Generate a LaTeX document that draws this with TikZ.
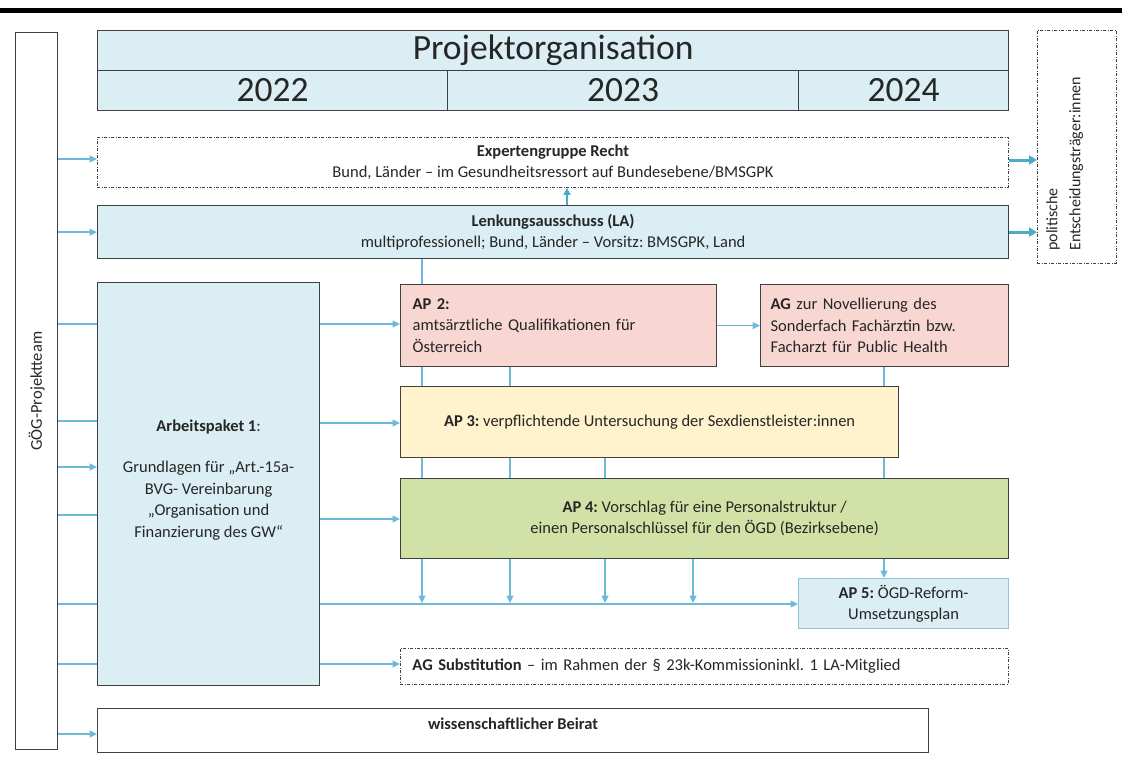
\documentclass[tikz,border=0pt]{standalone}
\usepackage{fontspec}
\setmainfont{Carlito}
\usetikzlibrary{arrows.meta,calc}
\frenchspacing
\definecolor{lblue}{HTML}{DAEEF3}
\definecolor{pinkf}{HTML}{F8D6D1}
\definecolor{yellowf}{HTML}{FFF2CC}
\definecolor{greenf}{HTML}{D2E2A6}
\definecolor{bgray}{HTML}{404040}
\definecolor{ablue}{HTML}{4BACC6}
\definecolor{lline}{HTML}{6EBAD6}
\definecolor{ap5border}{HTML}{8CC6DC}
\tikzset{
  box/.style={draw=bgray, line width=1.2pt, inner sep=0pt, anchor=north west,
    font=\fontsize{16.5}{21.5}\selectfont, text=black!85},
  dashbox/.style={box, dash pattern=on 3pt off 1.5pt on 1pt off 1.5pt, line width=0.9pt},
  hdrbox/.style={box, fill=lblue, font=\fontsize{35.5}{40}\selectfont},
  ln/.style={draw=lline, line width=1.3pt},
  arr/.style={ln, -{Triangle[length=7.5pt,width=7pt]}},
  thickarr/.style={draw=ablue, line width=3pt, -{Triangle[length=8pt,width=9pt]}},
}
\begin{document}
\begin{tikzpicture}[x=1pt,y=-1pt]
\useasboundingbox (0,0) rectangle (1122,758);
% top rule
\fill[black] (0,7.5) rectangle (1122,12.5);

% column coordinates
\coordinate (c1) at (422,0);
\coordinate (c2) at (510,0);
\coordinate (c3) at (605,0);
\coordinate (c4) at (693,0);
\coordinate (c5) at (884,0);
\coordinate (cup) at (567,0);

% left box
\node[box, minimum width=42, minimum height=717] (gog) at (15,32) {};
\node[rotate=90, font=\fontsize{16.5}{20}\selectfont, text=black!85] (gogtxt) at (gog.center) {GÖG-Projektteam};

% header
\node[hdrbox, minimum width=911, minimum height=40] (hdr) at (97,30) {Projektorganisation};
\node[hdrbox, minimum width=350, minimum height=40] (y22) at (97,70) {2022};
\node[hdrbox, minimum width=351, minimum height=40] (y23) at (447,70) {2023};
\node[hdrbox, minimum width=210, minimum height=40] (y24) at (798,70) {2024};

% politische
\node[dashbox, minimum width=79, minimum height=233] (pol) at (1037,30) {};
\node[rotate=90, anchor=north west, align=left, inner sep=0pt,
  font=\fontsize{16}{23}\selectfont, text=black!85] (poltxt) at (1046,251)
  {politische\\Entscheidungsträger:innen};

% Expertengruppe
\node[dashbox, fill=white, minimum width=911, minimum height=50, align=center] (exp) at (97,137)
  {\textbf{Expertengruppe Recht}\\Bund, Länder – im Gesundheitsressort auf Bundesebene/BMSGPK};
% LA
\node[box, fill=lblue, minimum width=911, minimum height=53, align=center] (la) at (97,205)
  {\textbf{Lenkungsausschuss (LA)}\\multiprofessionell; Bund, Länder – Vorsitz: BMSGPK, Land};

% AP1
\node[box, fill=lblue, minimum width=222, minimum height=403,
  label={[align=center, yshift=4pt, font=\fontsize{16.5}{21.5}\selectfont, text=black!85]center:%
  \textbf{Arbeitspaket 1}:\\[20pt]Grundlagen für „Art.-15a-\\BVG- Vereinbarung\\„Organisation und\\Finanzierung des GW“}] (ap1) at (97,282) {};

% AP2
\node[box, fill=pinkf, minimum width=316, minimum height=82, align=left,
  text width=292, inner xsep=12pt] (ap2) at (400,284)
  {\textbf{AP 2:}\\amtsärztliche Qualifikationen für\\Österreich};
% AG
\node[box, fill=pinkf, minimum width=248, minimum height=82, align=left,
  text width=228, inner xsep=10pt] (ag) at (760,284)
  {\textbf{AG} zur Novellierung des\\Sonderfach Fachärztin bzw.\\Facharzt für Public Health};
% AP3
\node[box, fill=yellowf, minimum width=498, minimum height=71, align=center] (ap3) at (400,386)
  {\textbf{AP 3:} verpflichtende Untersuchung der Sexdienstleister:innen};
% AP4
\node[box, fill=greenf, minimum width=608, minimum height=80, align=center] (ap4) at (400,478)
  {\textbf{AP 4:} Vorschlag für eine Personalstruktur /\\einen Personalschlüssel für den ÖGD (Bezirksebene)};
% AP5
\node[box, draw=ap5border, fill=lblue, minimum width=210, minimum height=50, align=center] (ap5) at (798,578)
  {\textbf{AP 5:} ÖGD-Reform-\\Umsetzungsplan};
% AG Substitution
\node[dashbox, fill=white, minimum width=608, minimum height=36, align=left,
  text width=584, inner xsep=12pt] (agsub) at (400,648)
  {\textbf{AG Substitution} – im Rahmen der § 23k-Kommissioninkl. 1 LA-Mitglied};
% Beirat
\node[box, fill=white, minimum width=831, minimum height=44,
  label={[yshift=7pt, font=\fontsize{16.5}{20}\selectfont\bfseries, text=black!85]center:wissenschaftlicher Beirat}] (beirat) at (97,708) {};

% ---- connectors ----
% to politische
\draw[thickarr] (exp.east |- 0,160) -- (pol.west |- 0,160);
\draw[thickarr] (la.east) -- (la.east -| pol.west);
% LA up to Expertengruppe
\draw[draw=ablue, line width=2pt, -{Triangle[length=7pt,width=7pt]}] (la.north -| cup) -- (exp.south -| cup);

% from GÖG
\draw[arr] (gog.east |- 0,159) -- (exp.west |- 0,159);
\draw[arr] (gog.east |- la.west) -- (la.west);
\draw[ln] (gog.east |- 0,324) -- (ap1.west |- 0,324);
\draw[ln] (gog.east |- 0,421) -- (ap1.west |- 0,421);
\draw[arr] (gog.east |- 0,467) -- (ap1.west |- 0,467);
\draw[ln] (gog.east |- 0,515) -- (ap1.west |- 0,515);
\draw[ln] (gog.east |- 0,604) -- (ap1.west |- 0,604);
\draw[ln] (gog.east |- 0,664) -- (ap1.west |- 0,664);
\draw[arr] (gog.east |- 0,734) -- (beirat.west |- 0,734);

% from AP1
\draw[arr] (ap1.east |- 0,324) -- (ap2.west |- 0,324);
\draw[arr] (ap1.east |- 0,423) -- (ap3.west |- 0,423);
\draw[arr] (ap1.east |- 0,519) -- (ap4.west |- 0,519);
\draw[arr] (ap1.east |- 0,604) -- (ap5.west |- 0,604);
\draw[arr] (ap1.east |- 0,664) -- (agsub.west |- 0,664);

% AP2 -> AG
\draw[arr] (ap2.east) -- (ag.west);

% verticals
\draw[ln] (la.south -| c1) -- (ap2.north -| c1);
\draw[ln] (ap2.south -| c1) -- (ap3.north -| c1);
\draw[ln] (ap2.south -| c2) -- (ap3.north -| c2);
\draw[ln] (ag.south -| c5) -- (ap3.north -| c5);
\draw[ln] (ap3.south -| c1) -- (ap4.north -| c1);
\draw[ln] (ap3.south -| c2) -- (ap4.north -| c2);
\draw[ln] (ap3.south -| c3) -- (ap4.north -| c3);
\draw[ln] (ap3.south -| c5) -- (ap4.north -| c5);
\draw[arr] (ap4.south -| c1) -- (c1 |- 0,603);
\draw[arr] (ap4.south -| c2) -- (c2 |- 0,603);
\draw[arr] (ap4.south -| c3) -- (c3 |- 0,603);
\draw[arr] (ap4.south -| c4) -- (c4 |- 0,603);
\draw[arr] (ap4.south -| c5) -- (ap5.north -| c5);
\end{tikzpicture}
\end{document}
